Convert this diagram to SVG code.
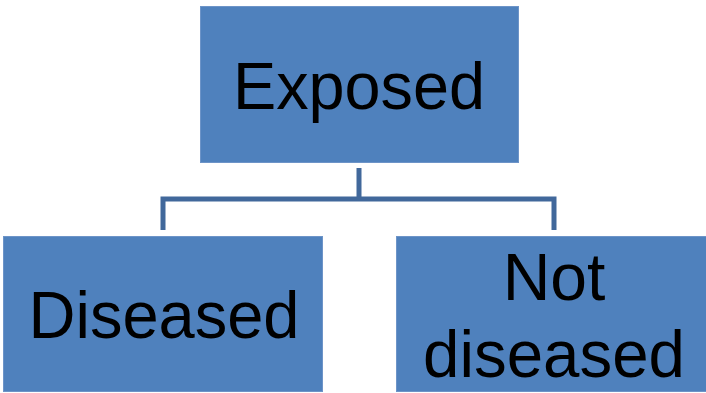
<svg xmlns="http://www.w3.org/2000/svg" width="706" height="393" viewBox="0 0 706 393">
<style>
.box{fill:#4f81bd;stroke:#6d94c8;stroke-width:1}
.lbl{font-family:"Liberation Sans",Arial,sans-serif;font-size:66px;fill:#000;text-anchor:middle}
.conn{fill:none;stroke:#41689b;stroke-width:5;stroke-linejoin:miter}
</style>
<rect width="706" height="393" fill="#fff"/>
<g id="connectors">
<path class="conn" d="M359,168 V199 M163,230 V199 H554 V230"/>
</g>
<g id="exposed">
<rect class="box" x="200.5" y="6.5" width="318" height="156"/>
<text class="lbl" x="359" y="109" textLength="252" lengthAdjust="spacingAndGlyphs">Exposed</text>
</g>
<g id="diseased">
<rect class="box" x="3.5" y="236.5" width="319" height="155"/>
<text class="lbl" x="164" y="338" textLength="271" lengthAdjust="spacingAndGlyphs">Diseased</text>
</g>
<g id="not-diseased">
<rect class="box" x="396.5" y="236.5" width="318" height="155"/>
<text class="lbl" x="554" y="300">Not</text>
<text class="lbl" x="554" y="377" textLength="262" lengthAdjust="spacingAndGlyphs">diseased</text>
</g>
</svg>
